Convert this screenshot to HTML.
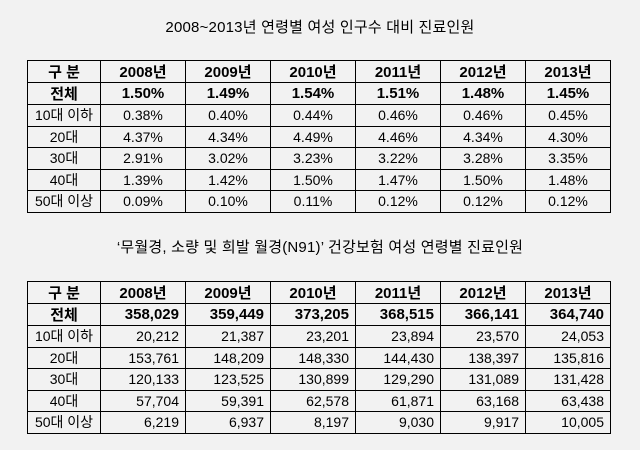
<!DOCTYPE html>
<html><head><meta charset="utf-8"><style>
body{margin:0;width:640px;height:450px;background:#f2f2f2;position:relative;font-family:"Liberation Sans","Noto Sans CJK KR","NanumGothic",sans-serif;color:#000;overflow:hidden}
.t{position:absolute;left:0;width:640px;text-align:center;font-size:15px;letter-spacing:0.2px}
table{position:absolute;left:27px;border-collapse:collapse;table-layout:fixed;width:583px}
td{border:1.5px solid #000;height:20.5px;padding:0;font-size:14px;text-align:center;white-space:nowrap}
tr.h td{font-weight:bold;font-size:15px}
.n td{text-align:right;padding-right:6px}
.n td:first-child{text-align:center;padding-right:0}
</style></head><body>
<div class="t" style="top:16px">2008~2013년 연령별 여성 인구수 대비 진료인원</div>
<table style="top:60px">
<colgroup><col style="width:73px"><col style="width:85px"><col style="width:85px"><col style="width:85px"><col style="width:85px"><col style="width:85px"><col style="width:85px"></colgroup>
<tr class="h"><td>구 분</td><td>2008년</td><td>2009년</td><td>2010년</td><td>2011년</td><td>2012년</td><td>2013년</td></tr>
<tr class="h"><td>전체</td><td>1.50%</td><td>1.49%</td><td>1.54%</td><td>1.51%</td><td>1.48%</td><td>1.45%</td></tr>
<tr><td>10대 이하</td><td>0.38%</td><td>0.40%</td><td>0.44%</td><td>0.46%</td><td>0.46%</td><td>0.45%</td></tr>
<tr><td>20대</td><td>4.37%</td><td>4.34%</td><td>4.49%</td><td>4.46%</td><td>4.34%</td><td>4.30%</td></tr>
<tr><td>30대</td><td>2.91%</td><td>3.02%</td><td>3.23%</td><td>3.22%</td><td>3.28%</td><td>3.35%</td></tr>
<tr><td>40대</td><td>1.39%</td><td>1.42%</td><td>1.50%</td><td>1.47%</td><td>1.50%</td><td>1.48%</td></tr>
<tr><td>50대 이상</td><td>0.09%</td><td>0.10%</td><td>0.11%</td><td>0.12%</td><td>0.12%</td><td>0.12%</td></tr>
</table>
<div class="t" style="top:236px">‘무월경, 소량 및 희발 월경(N91)’ 건강보험 여성 연령별 진료인원</div>
<table class="n" style="top:281px">
<colgroup><col style="width:73px"><col style="width:85px"><col style="width:85px"><col style="width:85px"><col style="width:85px"><col style="width:85px"><col style="width:85px"></colgroup>
<tr class="h"><td style="text-align:center;padding:0">구 분</td><td style="text-align:center;padding:0">2008년</td><td style="text-align:center;padding:0">2009년</td><td style="text-align:center;padding:0">2010년</td><td style="text-align:center;padding:0">2011년</td><td style="text-align:center;padding:0">2012년</td><td style="text-align:center;padding:0">2013년</td></tr>
<tr class="h"><td>전체</td><td>358,029</td><td>359,449</td><td>373,205</td><td>368,515</td><td>366,141</td><td>364,740</td></tr>
<tr><td>10대 이하</td><td>20,212</td><td>21,387</td><td>23,201</td><td>23,894</td><td>23,570</td><td>24,053</td></tr>
<tr><td>20대</td><td>153,761</td><td>148,209</td><td>148,330</td><td>144,430</td><td>138,397</td><td>135,816</td></tr>
<tr><td>30대</td><td>120,133</td><td>123,525</td><td>130,899</td><td>129,290</td><td>131,089</td><td>131,428</td></tr>
<tr><td>40대</td><td>57,704</td><td>59,391</td><td>62,578</td><td>61,871</td><td>63,168</td><td>63,438</td></tr>
<tr><td>50대 이상</td><td>6,219</td><td>6,937</td><td>8,197</td><td>9,030</td><td>9,917</td><td>10,005</td></tr>
</table>
</body></html>
